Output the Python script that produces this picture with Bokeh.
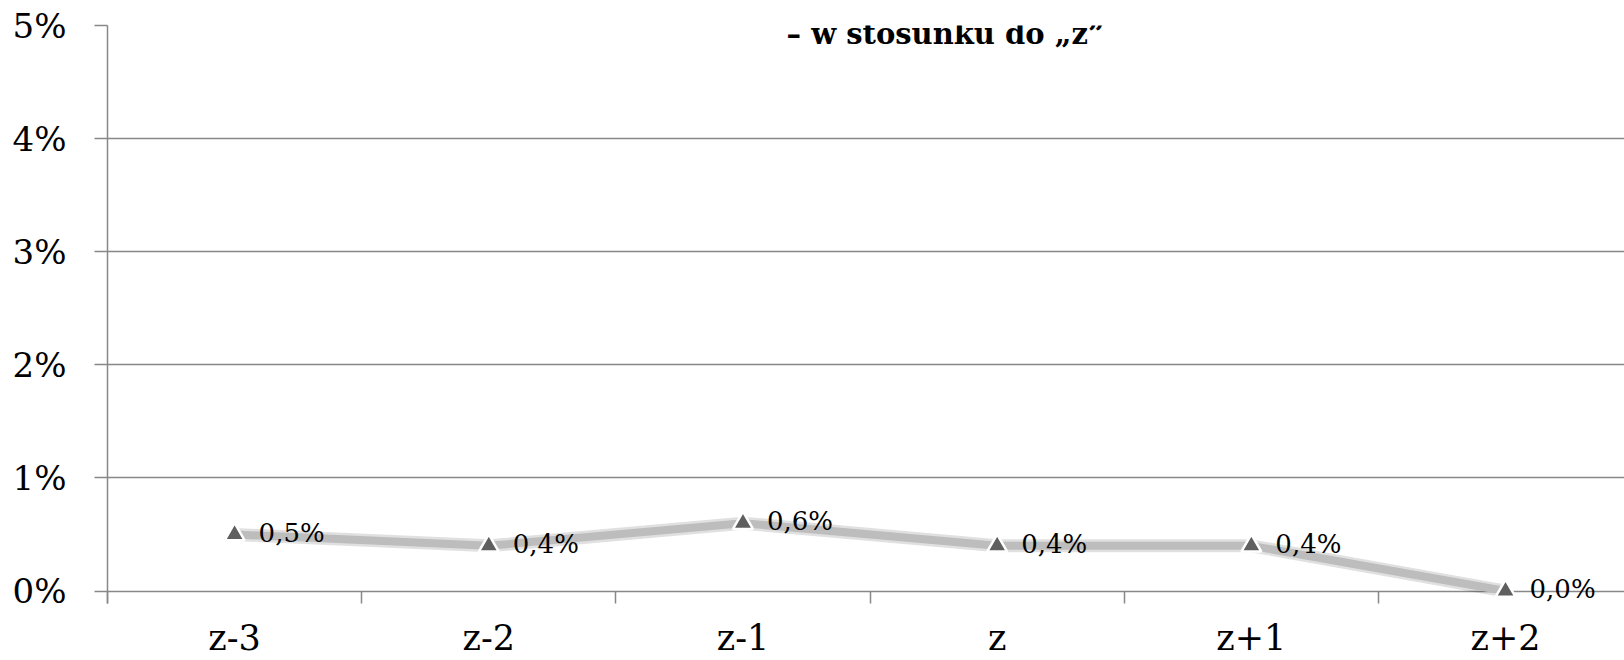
from bokeh.plotting import figure
from bokeh.models import ColumnDataSource, Range1d, FixedTicker, Label
from bokeh.embed import file_html
from bokeh.resources import INLINE

categories = ["z-3", "z-2", "z-1", "z", "z+1", "z+2"]
values = [0.5, 0.4, 0.6, 0.4, 0.4, 0.0]
value_labels = ["0,5%", "0,4%", "0,6%", "0,4%", "0,4%", "0,0%"]
y_ticks = [0, 1, 2, 3, 4, 5]
y_tick_labels = ["0%", "1%", "2%", "3%", "4%", "5%"]
title_text = "\u2013 w stosunku do \u201ez\u201d"

FONT = "DejaVu Serif"

xs = [i + 0.5 for i in range(len(categories))]
src = ColumnDataSource(dict(x=xs, y=values, lbl=value_labels))

p = figure(width=1624, height=660, output_backend="svg", toolbar_location=None,
           x_range=Range1d(0, 5.968), y_range=Range1d(-0.11, 5),
           min_border_left=107, min_border_right=0, min_border_top=25, min_border_bottom=55)
p.outline_line_color = None
p.background_fill_color = "white"
p.border_fill_color = "white"

p.xaxis.ticker = FixedTicker(ticks=xs, minor_ticks=list(range(len(categories) + 1)))
p.xaxis.major_label_overrides = {x: c for x, c in zip(xs, categories)}
p.xaxis.major_tick_line_color = None
p.xaxis.major_tick_out = 0
p.xaxis.major_tick_in = 0
p.xaxis.minor_tick_line_color = "#888888"
p.xaxis.minor_tick_out = 0
p.xaxis.minor_tick_in = 12
p.xaxis.minor_tick_line_width = 1.5
p.xaxis.axis_line_color = None
p.xaxis.major_label_text_font = FONT
p.xaxis.major_label_text_font_size = "35px"
p.xaxis.major_label_text_color = "black"
p.xaxis.major_label_standoff = 14

p.yaxis.ticker = FixedTicker(ticks=y_ticks, minor_ticks=[])
p.yaxis.major_label_overrides = {t: l for t, l in zip(y_ticks, y_tick_labels)}
p.yaxis.major_tick_line_color = "#888888"
p.yaxis.major_tick_out = 13
p.yaxis.major_tick_in = 0
p.yaxis.major_tick_line_width = 1.5
p.yaxis.axis_line_color = "#888888"
p.yaxis.axis_line_width = 1.5
p.yaxis.major_label_text_font = FONT
p.yaxis.major_label_text_font_size = "34px"
p.yaxis.major_label_text_color = "black"
p.yaxis.major_label_standoff = 28

p.xgrid.grid_line_color = None
p.ygrid.grid_line_color = "#888888"
p.ygrid.grid_line_width = 1.5

p.line("x", "y", source=src, line_color="black", line_alpha=0.12, line_width=13)
p.line("x", "y", source=src, line_color="#BDBDBD", line_width=8)
p.scatter("x", "y", source=src, marker="triangle", size=20,
          fill_color="#5F5F5F", line_color="white", line_width=2.5)

for x, y, t in zip(xs, values, value_labels):
    p.add_layout(Label(x=x, y=y, text=t, x_offset=24, y_offset=2,
                       text_font=FONT, text_font_size="26px", text_baseline="middle",
                       text_color="black"))

title = Label(x=3.297, y=5, text=title_text, text_font=FONT, text_font_style="bold",
              text_font_size="29px", text_align="center", text_baseline="alphabetic",
              y_offset=-8, text_color="black")
p.add_layout(title)

open("out.html", "w").write(file_html(p, INLINE))
